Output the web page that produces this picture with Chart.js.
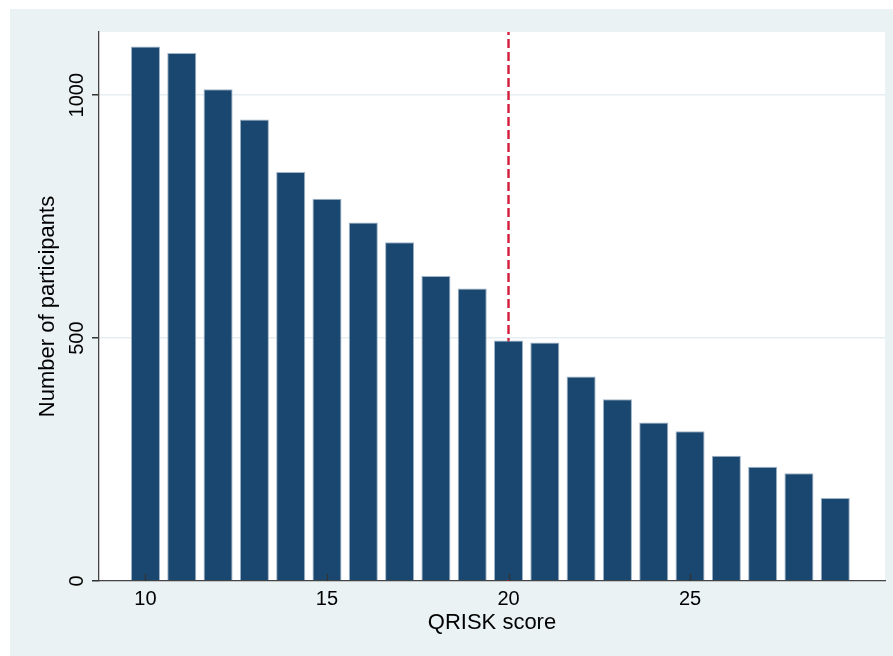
<!DOCTYPE html>
<html lang="en">

<head>
  <meta charset="UTF-8">
  <title>QRISK score histogram</title>
  <script src="https://cdn.jsdelivr.net/npm/chart.js"></script>
  <style>
    body { margin: 0; background: #fff; }
  </style>
</head>

<body>
  <canvas id="myChart" width="893" height="656"></canvas>

  <script>
    // data
    const scores = [10, 11, 12, 13, 14, 15, 16, 17, 18, 19, 20, 21, 22, 23, 24, 25, 26, 27, 28, 29]
    const participants = [1100, 1087, 1012, 950, 842, 787, 738, 697, 628, 602, 495, 491, 421, 374, 326, 308, 258, 235, 222, 171]
    const xTickValues = [10, 15, 20, 25]
    const yTickValues = [0, 500, 1000]
    const cutoff = 20

    const xMin = 8.72, xMax = 30.37
    const yMin = 0, yMax = 1130

    const font = 'Liberation Sans, Arial, sans-serif'

    const background = {
      id: 'background',
      beforeDraw(chart) {
        const { ctx, chartArea: a } = chart
        ctx.save()
        ctx.fillStyle = '#ffffff'
        ctx.fillRect(0, 0, chart.width, chart.height)
        ctx.fillStyle = '#eaf2f3'
        ctx.fillRect(10, 9, chart.width - 10, chart.height - 9)
        ctx.fillStyle = '#ffffff'
        ctx.fillRect(a.left, a.top, a.right - a.left, a.bottom - a.top)
        ctx.restore()
      }
    }

    // stata draws the x ticks pointing up into the plot
    const xTicks = {
      id: 'xTicks',
      afterDatasetsDraw(chart) {
        const { ctx, chartArea: a, scales } = chart
        ctx.save()
        ctx.strokeStyle = '#333'
        ctx.lineWidth = 1.3
        scales.x.ticks.forEach(t => {
          const px = Math.round(scales.x.getPixelForValue(t.value)) + 0.5
          ctx.beginPath()
          ctx.moveTo(px, a.bottom)
          ctx.lineTo(px, a.bottom - 7)
          ctx.stroke()
        })
        ctx.restore()
      }
    }

    const ctx = document.getElementById('myChart')

    new Chart(ctx, {
      type: 'bar',
      data: {
        datasets: [{
          label: 'Participants',
          data: scores.map((s, i) => ({ x: s, y: participants[i] })),
          backgroundColor: '#1a476f',
          borderColor: '#9fb3c6',
          borderWidth: 1,
          barPercentage: 0.8,
          categoryPercentage: 1,
          order: 0
        }, {
          type: 'line',
          label: 'Cutoff',
          data: [{ x: cutoff, y: yMin }, { x: cutoff, y: yMax }],
          borderColor: '#d41d3d',
          borderWidth: 2.4,
          borderDash: [9, 4],
          pointRadius: 0,
          order: 1
        }]
      },
      options: {
        responsive: false,
        animation: false,
        layout: { padding: { left: 10, top: 32, right: 8, bottom: 0 } },
        plugins: {
          legend: { display: false },
          tooltip: { enabled: false }
        },
        scales: {
          x: {
            type: 'linear',
            min: xMin,
            max: xMax,
            offset: false,
            grid: { display: false, drawTicks: false },
            border: { display: true, color: '#444', width: 1.3 },
            afterBuildTicks: s => { s.ticks = xTickValues.map(v => ({ value: v })) },
            afterFit: s => { s.height = 75 },
            ticks: {
              color: '#000',
              font: { family: font, size: 20 },
              padding: 6,
              maxRotation: 0,
              autoSkip: false,
              callback: v => String(v)
            },
            title: {
              display: true,
              text: 'QRISK score',
              color: '#000',
              font: { family: font, size: 22 },
              padding: { top: 0, bottom: 20 }
            }
          },
          y: {
            min: yMin,
            max: yMax,
            grid: { color: '#e6eef1', lineWidth: 1.5, tickColor: '#333', tickLength: 7 },
            border: { display: true, color: '#444', width: 1.3 },
            afterBuildTicks: s => { s.ticks = yTickValues.map(v => ({ value: v })) },
            afterFit: s => { s.width = 89 },
            ticks: {
              color: '#000',
              font: { family: font, size: 20 },
              minRotation: 90,
              maxRotation: 90,
              crossAlign: 'center',
              padding: -8,
              callback: v => String(v)
            },
            title: {
              display: true,
              text: 'Number of participants',
              color: '#000',
              font: { family: font, size: 22 },
              padding: { top: 25, bottom: 0 }
            }
          }
        }
      },
      plugins: [background, xTicks]
    });
  </script>
</body>

</html>
